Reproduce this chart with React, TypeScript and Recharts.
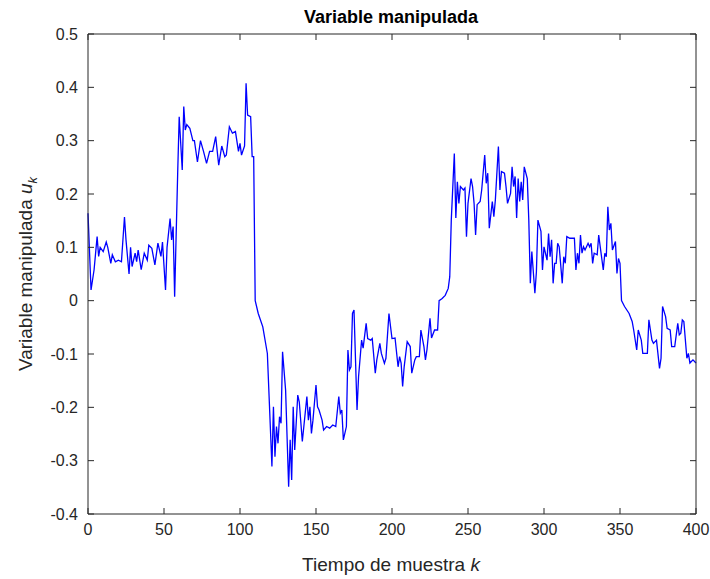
import { LineChart, Line, XAxis, YAxis, Label } from 'recharts';

// sample index k and manipulated variable u_k
const sampleK = [
  0, 2, 4, 6, 7, 8, 10, 12, 13, 15, 16, 18, 20, 22, 24, 25, 27, 28, 29, 31,
  32, 33, 35, 37, 39, 40, 42, 44, 46, 48, 49, 51, 52, 54, 55, 56, 57, 59, 60, 62,
  63, 64, 65, 67, 69, 70, 72, 74, 76, 78, 80, 82, 84, 86, 88, 90, 91, 93, 95, 97,
  99, 100, 101, 103, 104, 105, 107, 108, 109, 110, 112, 115, 118, 121, 122, 123, 124, 125, 126, 127,
  128, 130, 132, 133, 134, 135, 136, 138, 139, 141, 142, 144, 145, 146, 147, 148, 150, 151, 152, 154,
  155, 157, 159, 161, 163, 165, 166, 167, 168, 170, 171, 172, 173, 174, 175, 177, 178, 180, 181, 183,
  184, 186, 187, 189, 190, 192, 193, 195, 196, 198, 200, 202, 204, 205, 206, 207, 208, 210, 212, 213,
  215, 216, 218, 219, 221, 222, 223, 225, 226, 228, 230, 231, 233, 235, 237, 238, 239, 241, 242, 243,
  244, 245, 247, 248, 249, 250, 252, 253, 254, 255, 256, 258, 259, 261, 262, 263, 264, 266, 267, 268,
  270, 271, 272, 274, 275, 276, 278, 279, 280, 281, 282, 283, 284, 285, 286, 287, 289, 290, 291, 292,
  294, 295, 296, 298, 299, 300, 302, 303, 304, 305, 306, 307, 308, 309, 310, 312, 313, 314, 315, 317,
  318, 320, 321, 322, 323, 324, 325, 326, 327, 329, 330, 331, 332, 333, 335, 336, 337, 339, 340, 341,
  342, 343, 344, 345, 347, 348, 349, 350, 351, 353, 356, 358, 359, 361, 362, 364, 365, 367, 368, 369,
  371, 372, 374, 376, 377, 378, 380, 381, 383, 384, 386, 388, 389, 390, 391, 392, 394, 395, 396, 398,
  400,
];

const uValues = [
  0.164, 0.02, 0.058, 0.12, 0.083, 0.1, 0.092, 0.11, 0.1, 0.07, 0.086, 0.073, 0.076, 0.073, 0.157, 0.114, 0.05, 0.1, 0.064, 0.089,
  0.073, 0.095, 0.058, 0.089, 0.076, 0.104, 0.098, 0.067, 0.108, 0.083, 0.11, 0.02, 0.1, 0.154, 0.114, 0.139, 0.0075, 0.239, 0.345, 0.245,
  0.364, 0.32, 0.33, 0.323, 0.3, 0.3, 0.26, 0.3, 0.28, 0.2575, 0.28, 0.28, 0.3075, 0.254, 0.29, 0.27, 0.273, 0.326, 0.314, 0.317,
  0.28, 0.295, 0.273, 0.29, 0.4075, 0.348, 0.345, 0.27, 0.27, 0.0, -0.024, -0.049, -0.099, -0.311, -0.199, -0.2925, -0.236, -0.2675, -0.2175, -0.23,
  -0.096, -0.1675, -0.349, -0.261, -0.336, -0.199, -0.28, -0.177, -0.19, -0.264, -0.236, -0.18, -0.224, -0.199, -0.249, -0.224, -0.158, -0.199, -0.205, -0.224,
  -0.2425, -0.236, -0.239, -0.233, -0.236, -0.18, -0.211, -0.205, -0.261, -0.236, -0.0925, -0.13, -0.124, -0.024, -0.0175, -0.205, -0.1425, -0.074, -0.089, -0.0425,
  -0.071, -0.074, -0.071, -0.136, -0.111, -0.08, -0.099, -0.1175, -0.108, -0.024, -0.071, -0.07, -0.124, -0.105, -0.117, -0.161, -0.124, -0.077, -0.086, -0.136,
  -0.111, -0.105, -0.105, -0.055, -0.086, -0.111, -0.092, -0.033, -0.07, -0.055, -0.055, 0.0, 0.004, 0.01, 0.023, 0.045, 0.151, 0.276, 0.155, 0.223,
  0.1825, 0.214, 0.2075, 0.211, 0.12, 0.1825, 0.229, 0.214, 0.1825, 0.123, 0.18, 0.186, 0.2075, 0.273, 0.22, 0.239, 0.136, 0.186, 0.1575, 0.189,
  0.289, 0.2075, 0.242, 0.239, 0.214, 0.1825, 0.201, 0.251, 0.214, 0.233, 0.155, 0.229, 0.186, 0.223, 0.189, 0.251, 0.229, 0.151, 0.0325, 0.092,
  0.014, 0.054, 0.151, 0.13, 0.0575, 0.101, 0.076, 0.126, 0.0825, 0.114, 0.0325, 0.07, 0.07, 0.1075, 0.101, 0.0325, 0.0825, 0.07, 0.12, 0.117,
  0.117, 0.117, 0.0575, 0.089, 0.07, 0.123, 0.089, 0.101, 0.095, 0.1075, 0.101, 0.1075, 0.07, 0.089, 0.086, 0.123, 0.101, 0.0575, 0.089, 0.0825,
  0.176, 0.1325, 0.145, 0.095, 0.111, 0.051, 0.079, 0.07, 0.0, -0.011, -0.024, -0.039, -0.055, -0.0925, -0.055, -0.074, -0.099, -0.099, -0.099, -0.036,
  -0.074, -0.08, -0.074, -0.127, -0.108, -0.011, -0.03, -0.052, -0.055, -0.086, -0.086, -0.0425, -0.064, -0.061, -0.036, -0.039, -0.108, -0.099, -0.117, -0.111,
  -0.117,
];

const xTicks = [0, 50, 100, 150, 200, 250, 300, 350, 400];
const yTicks = [-0.4, -0.3, -0.2, -0.1, 0, 0.1, 0.2, 0.3, 0.4, 0.5];

const FONT = '"Liberation Sans", Arial, Helvetica, sans-serif';
const AXIS = '#262626';
const TICK_LEN = 6;
const TICK_GAP = 10;

function BottomTick({ x, y, payload }: any) {
  const axisY = y - TICK_GAP;
  return (
    <g>
      <line x1={x} y1={axisY} x2={x} y2={axisY - TICK_LEN} stroke={AXIS} />
      <text x={x} y={y} dy="0.71em" textAnchor="middle" fill={AXIS} fontSize={16} fontFamily={FONT}>
        {payload.value}
      </text>
    </g>
  );
}

function LeftTick({ x, y, payload }: any) {
  const axisX = x + TICK_GAP;
  return (
    <g>
      <line x1={axisX} y1={y} x2={axisX + TICK_LEN} y2={y} stroke={AXIS} />
      <text x={x} y={y} dy="0.35em" textAnchor="end" fill={AXIS} fontSize={16} fontFamily={FONT}>
        {payload.value}
      </text>
    </g>
  );
}

function TopTick({ x, y }: any) {
  return <line x1={x} y1={y} x2={x} y2={y + TICK_LEN} stroke={AXIS} />;
}

function RightTick({ x, y }: any) {
  return <line x1={x} y1={y} x2={x - TICK_LEN} y2={y} stroke={AXIS} />;
}

function Titles() {
  return (
    <g>
      <text x={391} y={23} textAnchor="middle" fill="#000" fontSize={18} fontWeight="bold" fontFamily={FONT}>
        Variable manipulada
      </text>
      <text x={391} y={571} textAnchor="middle" fill={AXIS} fontSize={19} fontFamily={FONT}>
        Tiempo de muestra <tspan fontStyle="italic">k</tspan>
      </text>
      <text
        x={0}
        y={0}
        transform="translate(32 274) rotate(-90)"
        textAnchor="middle"
        fill={AXIS}
        fontSize={19}
        fontFamily={FONT}
      >
        Variable manipulada <tspan fontStyle="italic">u</tspan>
        <tspan fontStyle="italic" fontSize={13} dy={5}>k</tspan>
      </text>
    </g>
  );
}

export default function App() {
  const data = sampleK.map((k, i) => ({ k, u: uValues[i] }));

  return (
    <div style={{ position: 'absolute', left: 0, top: 0, background: '#fff' }}>
      <LineChart width={710} height={579} data={data} margin={{ top: 33, right: 13, bottom: 35, left: 0 }}>
        <XAxis
          dataKey="k"
          type="number"
          domain={[0, 400]}
          ticks={xTicks}
          height={30}
          tickSize={0}
          tickMargin={TICK_GAP}
          tick={<BottomTick />}
          axisLine={{ stroke: AXIS }}
        >
          <Label content={() => <Titles />} />
        </XAxis>
        <XAxis
          xAxisId="top"
          orientation="top"
          dataKey="k"
          type="number"
          domain={[0, 400]}
          ticks={xTicks}
          height={1}
          tickSize={0}
          tickMargin={0}
          tick={<TopTick />}
          axisLine={{ stroke: AXIS }}
        />
        <YAxis
          type="number"
          domain={[-0.4, 0.5]}
          ticks={yTicks}
          width={88}
          tickSize={0}
          tickMargin={TICK_GAP}
          tick={<LeftTick />}
          axisLine={{ stroke: AXIS }}
        />
        <YAxis
          yAxisId="right"
          orientation="right"
          type="number"
          domain={[-0.4, 0.5]}
          ticks={yTicks}
          width={1}
          tickSize={0}
          tickMargin={0}
          tick={<RightTick />}
          axisLine={{ stroke: AXIS }}
        />
        <Line
          xAxisId="top"
          yAxisId="right"
          type="linear"
          dataKey="u"
          stroke="none"
          dot={false}
          legendType="none"
          isAnimationActive={false}
        />
        <Line
          type="linear"
          dataKey="u"
          stroke="#0000ff"
          strokeWidth={1.3}
          dot={false}
          isAnimationActive={false}
        />
      </LineChart>
    </div>
  );
}
